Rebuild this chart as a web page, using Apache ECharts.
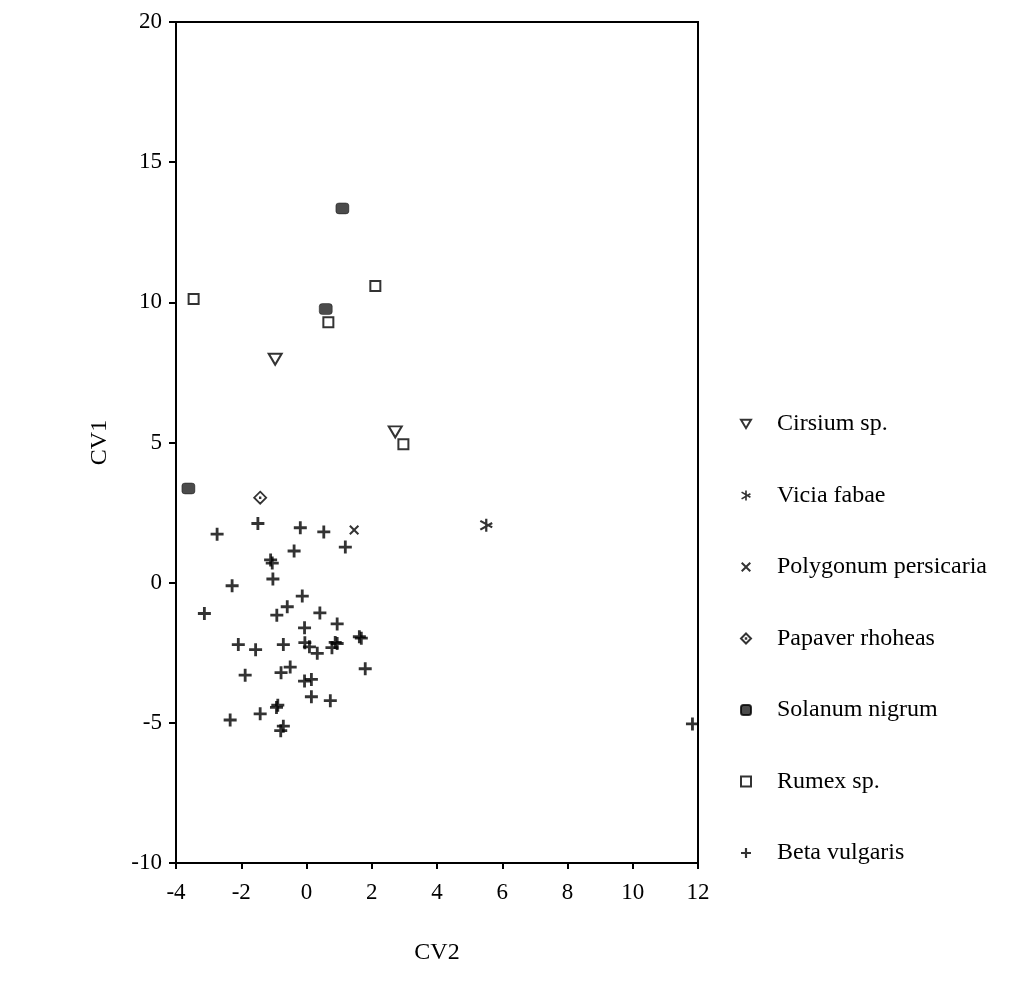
<!DOCTYPE html>
<html>
<head>
<meta charset="utf-8">
<script src="https://cdn.jsdelivr.net/npm/echarts@6/dist/echarts.min.js"></script>
<style>html,body{margin:0;padding:0;background:#fff}#c{width:1019px;height:994px}</style>
</head>
<body>
<div id="c"></div>
<script>
// Data (CV2 = x, CV1 = y)
const seriesNames = ['Cirsium sp.', 'Vicia fabae', 'Polygonum persicaria', 'Papaver rhoheas', 'Solanum nigrum', 'Rumex sp.', 'Beta vulgaris'];
const cirsium = [[-0.96, 7.97], [2.72, 5.38]];
const vicia = [[5.51, 2.05]];
const polygonum = [[1.46, 1.88]];
const papaver = [[-1.42, 3.03]];
const solanum = [[1.10, 13.35], [0.59, 9.76], [-3.62, 3.36]];
const rumex = [[-3.46, 10.12], [2.11, 10.58], [0.67, 9.29], [2.97, 4.94]];
const beta = [[-1.49,2.11],[-2.74,1.73],[-0.19,1.96],[0.53,1.81],[1.19,1.27],[-0.38,1.13],[-1.10,0.81],[-1.05,0.70],[-1.03,0.13],[-2.28,-0.11],[-0.13,-0.48],[-0.59,-0.86],[-3.13,-1.10],[-0.91,-1.16],[0.41,-1.08],[0.94,-1.47],[-0.06,-1.61],[1.62,-1.93],[1.68,-1.98],[0.88,-2.13],[0.94,-2.17],[0.78,-2.32],[-0.05,-2.14],[0.09,-2.29],[0.33,-2.52],[-2.09,-2.21],[-1.56,-2.39],[-0.71,-2.21],[1.80,-3.07],[-0.50,-3.01],[-0.78,-3.21],[-1.88,-3.30],[-0.06,-3.51],[0.15,-3.45],[0.15,-4.07],[0.73,-4.21],[-0.88,-4.37],[-0.92,-4.45],[-1.42,-4.68],[-2.34,-4.90],[-0.71,-5.12],[-0.79,-5.28],[11.83,-5.04]];
const xTicks = {min: -4, max: 12, interval: 2};
const yTicks = {min: -10, max: 20, interval: 5};

const FONT = "'Liberation Serif', 'Times New Roman', serif";
const PLUS = 'path://M4.7,0h2.6v4.7h4.7v2.6h-4.7v4.7h-2.6v-4.7h-4.7v-2.6h4.7z';
const CROSS = 'path://M1.7,0L6,4.3L10.3,0L12,1.7L7.7,6L12,10.3L10.3,12L6,7.7L1.7,12L0,10.3L4.3,6L0,1.7Z';
const STAR = 'path://M5.0,0h2.0v12h-2.0z M0.2,2.8l1.0,-1.7l10.6,6.1l-1.0,1.7z M0.2,9.2l10.6,-6.1l1.0,1.7l-10.6,6.1z';
const TRI = 'path://M0,0L12,0L6,10Z';
const DIAM = 'path://M6,0L12,6L6,12L0,6Z M5.7,5.7h0.6v0.6h-0.6z';

const outline = {color: '#fff', borderColor: '#000', borderWidth: 2};
const solid = {color: '#000', borderWidth: 0};

const chart = echarts.init(document.getElementById('c'), null, {renderer: 'canvas'});
chart.setOption({
  animation: false,
  backgroundColor: '#fff',
  grid: {left: 176, right: 321, top: 22, bottom: 131, show: true, borderColor: '#000', borderWidth: 2, backgroundColor: 'transparent'},
  xAxis: {
    type: 'value', min: xTicks.min, max: xTicks.max, interval: xTicks.interval,
    name: 'CV2', nameLocation: 'middle', nameGap: 78,
    nameTextStyle: {fontFamily: FONT, fontSize: 24, color: '#000'},
    axisLine: {show: true, onZero: false, lineStyle: {color: '#000', width: 2}},
    axisTick: {show: true, length: 6, lineStyle: {color: '#000', width: 2}},
    axisLabel: {fontFamily: FONT, fontSize: 23, color: '#000', margin: 18},
    splitLine: {show: false}
  },
  yAxis: {
    type: 'value', min: yTicks.min, max: yTicks.max, interval: yTicks.interval,
    name: 'CV1', nameLocation: 'middle', nameGap: 64, nameRotate: 90,
    nameTextStyle: {fontFamily: FONT, fontSize: 24, color: '#000'},
    axisLine: {show: true, onZero: false, lineStyle: {color: '#000', width: 2}},
    axisTick: {show: true, length: 7, lineStyle: {color: '#000', width: 2}},
    axisLabel: {fontFamily: FONT, fontSize: 23, color: '#000', margin: 14},
    splitLine: {show: false}
  },
  legend: {
    orient: 'vertical', left: 735, top: 407,
    itemWidth: 10, itemHeight: 10, itemGap: 47.5,
    textStyle: {fontFamily: FONT, fontSize: 24, color: '#000', lineHeight: 24, padding: [0, 0, 0, 21]},
    data: seriesNames
  },
  series: [
    {name: seriesNames[0], type: 'scatter', data: cirsium, symbol: TRI, symbolSize: [13, 11], itemStyle: outline},
    {name: seriesNames[1], type: 'scatter', data: vicia, symbol: STAR, symbolSize: 13, itemStyle: solid},
    {name: seriesNames[2], type: 'scatter', data: polygonum, symbol: CROSS, symbolSize: 10, itemStyle: solid},
    {name: seriesNames[3], type: 'scatter', data: papaver, symbol: DIAM, symbolSize: 12, itemStyle: {color: '#fff', borderColor: '#000', borderWidth: 1.8}},
    {name: seriesNames[4], type: 'scatter', data: solanum, symbol: 'roundRect', symbolSize: [13, 11], itemStyle: {color: '#1e1e1e', borderColor: '#000', borderWidth: 0.5}},
    {name: seriesNames[5], type: 'scatter', data: rumex, symbol: 'rect', symbolSize: 10, itemStyle: outline},
    {name: seriesNames[6], type: 'scatter', data: beta, symbol: PLUS, symbolSize: 13, itemStyle: solid}
  ]
});
</script>
</body>
</html>
